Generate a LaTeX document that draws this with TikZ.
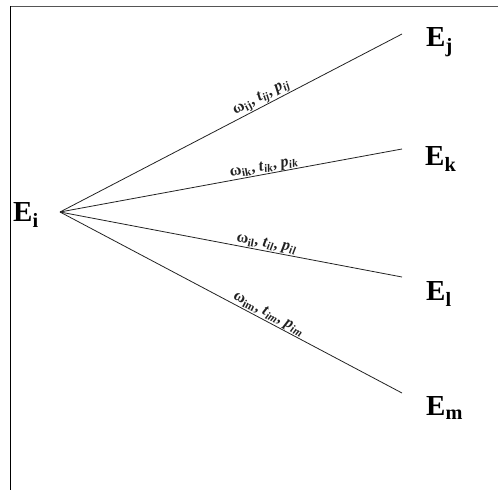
\documentclass[tikz,border=0pt]{standalone}
\usepackage{xcolor}
\usepackage{fontspec}
\setmainfont{Liberation Serif}
\usepackage{tikz}
\definecolor{dark}{HTML}{222222}
\definecolor{cornice}{HTML}{555555}

\begin{document}
\begin{tikzpicture}[x=1pt, y=-1pt,
    ramo/.style={dark, line width=0.8pt},
    evento/.style={font=\fontsize{29}{29}\selectfont\bfseries, inner sep=0pt},
    peso/.style={font=\fontsize{16}{16}\selectfont\bfseries, inner sep=0.3pt,
                 sloped, above, pos=0.6}]
  \useasboundingbox (0,0) rectangle (498,490);

  \coordinate (ei) at (60,212);
  \coordinate (ej) at (402,34);
  \coordinate (ek) at (402,149);
  \coordinate (el) at (402,277);
  \coordinate (em) at (402,393);

  % Cornice (lato sinistro e superiore)
  \draw[cornice, line width=1.4pt] (10,6.5) -- (498,6.5);
  \draw[black, line width=1.1pt] (10.5,6) -- (10.5,490);

  % Rami uscenti da E_i
  \draw[ramo] (ei) -- (ej)
    node[peso] (wj) {ω\textsubscript{ij}, \textit{t}\textsubscript{\textit{ij}}, \textit{p}\textsubscript{\textit{ij}}};
  \draw[ramo] (ei) -- (ek)
    node[peso] (wk) {ω\textsubscript{ik}, \textit{t}\textsubscript{\textit{ik}}, \textit{p}\textsubscript{\textit{ik}}};
  \draw[ramo] (ei) -- (el)
    node[peso] (wl) {ω\textsubscript{il}, \textit{t}\textsubscript{\textit{il}}, \textit{p}\textsubscript{\textit{il}}};
  \draw[ramo] (ei) -- (em)
    node[peso] (wm) {ω\textsubscript{im}, \textit{t}\textsubscript{\textit{im}}, \textit{p}\textsubscript{\textit{im}}};

  % Etichette eventi
  \node[evento, anchor=west] (Ei) at (13,215) {E\textsubscript{i}};
  \node[evento, anchor=west] (Ej) at (426,42) {E\textsubscript{j}};
  \node[evento, anchor=west] (Ek) at (425,159) {E\textsubscript{k}};
  \node[evento, anchor=west] (El) at (426,294) {E\textsubscript{l}};
  \node[evento, anchor=west] (Em) at (426,408) {E\textsubscript{m}};
\end{tikzpicture}
\end{document}
